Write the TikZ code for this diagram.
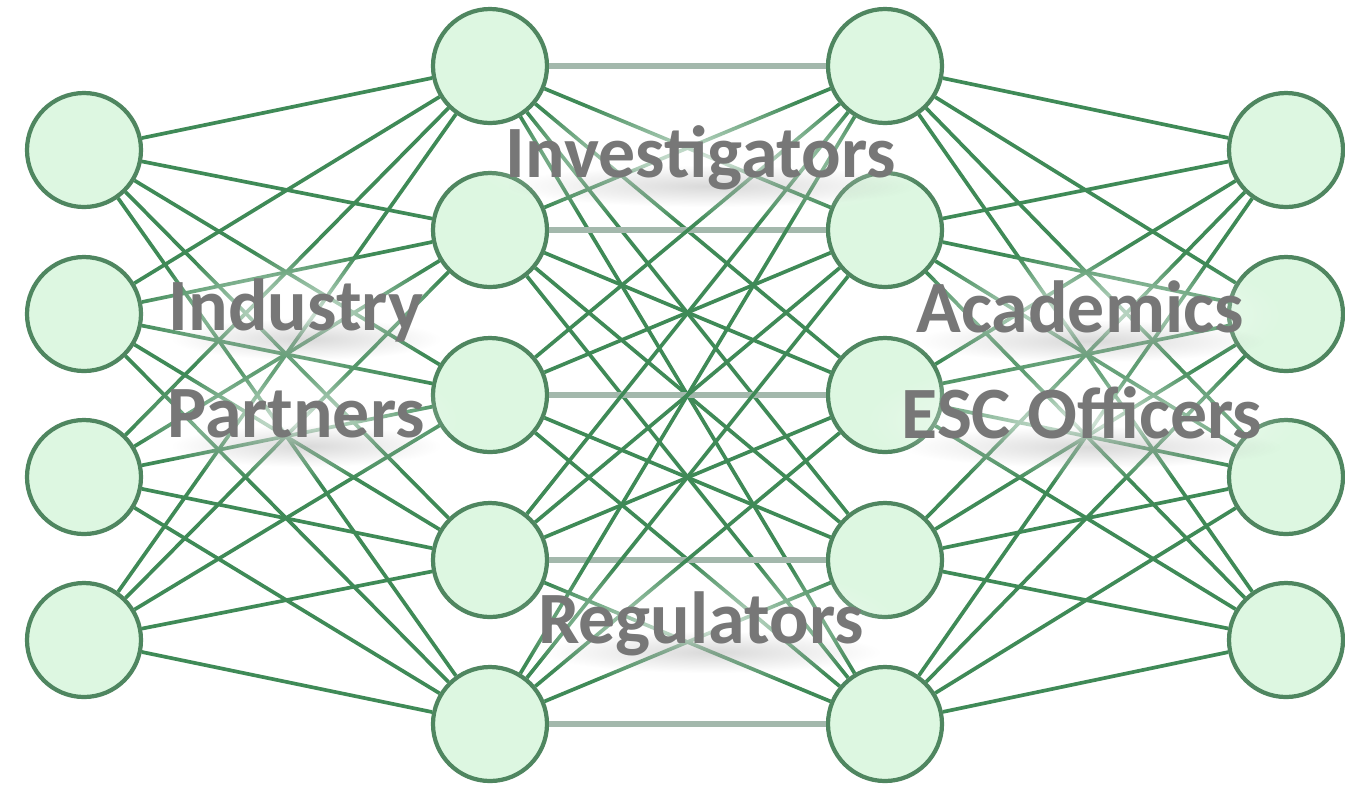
\documentclass[tikz,border=0pt]{standalone}
\usepackage{fontspec}
\setmainfont{Carlito}
\usepackage{tikz}
\usetikzlibrary{positioning, calc, fadings}
\usepackage{xcolor}

\definecolor{nodefill}{HTML}{DDF7E1}
\definecolor{nodeline}{HTML}{4F8660}
\definecolor{linkgreen}{HTML}{3F8A57}
\definecolor{flatgray}{HTML}{A3B8AC}
\definecolor{labelgray}{HTML}{777777}

\tikzfading[name=softblob, inner color=transparent!0, outer color=transparent!100]

\tikzset{
    neuron/.style={circle, draw=nodeline, fill=nodefill, line width=1.2pt, minimum size=1.14cm, inner sep=0pt},
    link/.style={draw=linkgreen, line width=1.05pt},
    flatlink/.style={draw=flatgray, line width=1.5pt},
    lbl/.style={anchor=base, inner sep=0pt, text=labelgray, font=\fontsize{21}{25}\selectfont\bfseries},
    haze/.style={fill=white, opacity=0.8, path fading=softblob},
    smudge/.style={fill=black, opacity=0.15, path fading=softblob}
}

\begin{document}
\begin{tikzpicture}[x=1cm, y=-1cm]

            % Khung
            \useasboundingbox[fill=white] (0,0) rectangle (13.45,7.9);

            % Lớp vào và lớp ra
            \foreach \k/\y in {1/1.50, 2/3.14, 3/4.77, 4/6.40} {
                \node[neuron] (a\k) at (0.84,\y) {};
                \node[neuron] (d\k) at (12.86,\y) {};
            }

            % Hai lớp ẩn
            \foreach \k/\y in {1/0.66, 2/2.30, 3/3.95, 4/5.60, 5/7.24} {
                \node[neuron] (b\k) at (4.90,\y) {};
                \node[neuron] (c\k) at (8.85,\y) {};
            }

            % Nối các lớp
            \foreach \i in {1,...,4} {
                \foreach \j in {1,...,5} {
                    \draw[link] (a\i) -- (b\j);
                    \draw[link] (c\j) -- (d\i);
                }
            }
            \foreach \i in {1,...,5} {
                \foreach \j in {1,...,5} {
                    \ifnum\i=\j
                        \draw[flatlink] (b\i) -- (c\j);
                    \else
                        \draw[link] (b\i) -- (c\j);
                    \fi
                }
            }

            % Nhãn (có quầng sáng và bóng mờ)
            \foreach \name/\x/\y/\w/\txt in {inv/7.01/1.77/3.9/Investigators, ind/2.96/3.30/2.5/Industry, par/2.96/4.37/2.5/Partners, aca/10.80/3.32/3.3/Academics, esc/10.82/4.38/3.6/ESC Officers, reg/7.01/6.43/3.2/Regulators} {
                \fill[haze] (\x-\w/2-0.4,\y-0.8) rectangle (\x+\w/2+0.4,\y+0.45);
                \fill[smudge] (\x-\w/2,\y-0.12) rectangle (\x+\w/2+0.2,\y+0.3);
                \node[lbl] (\name) at (\x,\y) {\txt};
            }

\end{tikzpicture}
\end{document}
